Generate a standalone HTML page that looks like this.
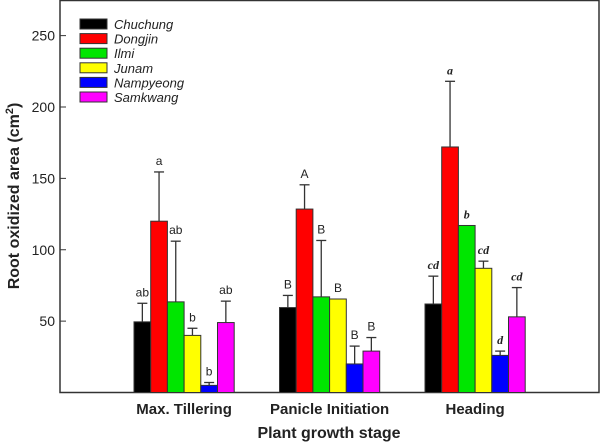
<!DOCTYPE html>
<html><head><meta charset="utf-8"><style>
body{margin:0;background:#fff}
svg{display:block;font-family:"Liberation Sans",Arial,sans-serif}
</style></head><body>
<svg id="chart" width="600" height="442" viewBox="0 0 600 442" xmlns="http://www.w3.org/2000/svg"></svg>
<script>
const categories=["Max. Tillering","Panicle Initiation","Heading"];
const series=["Chuchung","Dongjin","Ilmi","Junam","Nampyeong","Samkwang"];
const colors=["#000000","#ff0000","#00e600","#ffff00","#0000ff","#ff00ff"];
const valsChuchung=[49.5,59.5,62];
const valsDongjin=[120,128.5,172];
const valsIlmi=[63.5,67,117];
const valsJunam=[40,65.5,87];
const valsNampyeong=[5,20,26];
const valsSamkwang=[49,29,53];
const errChuchung=[13,8.5,19.5];
const errDongjin=[34.5,17,46];
const errIlmi=[42.5,39.5,0];
const errJunam=[5,0,5];
const errNampyeong=[2,12.5,3];
const errSamkwang=[15,9.5,20.5];
const lettersChuchung=["ab","B","cd"];
const lettersDongjin=["a","A","a"];
const lettersIlmi=["ab","B","b"];
const lettersJunam=["b","B","cd"];
const lettersNampyeong=["b","B","d"];
const lettersSamkwang=["ab","B","cd"];
const yTicks=[50,100,150,200,250];

const values=[valsChuchung,valsDongjin,valsIlmi,valsJunam,valsNampyeong,valsSamkwang];
const errs=[errChuchung,errDongjin,errIlmi,errJunam,errNampyeong,errSamkwang];
const letters=[lettersChuchung,lettersDongjin,lettersIlmi,lettersJunam,lettersNampyeong,lettersSamkwang];

const svg=document.getElementById('chart');
const NS="http://www.w3.org/2000/svg";
function mk(t,a,txt){const e=document.createElementNS(NS,t);for(const k in a)e.setAttribute(k,a[k]);if(txt!==undefined)e.textContent=txt;svg.appendChild(e);return e;}
const L=60,R=599,T=0.5,B=392.5;
const y=v=>B-v*1.4275;
const groupStart=i=>134+i*145.5;
const bw=16.7;
const x=(g,s)=>groupStart(g)+s*bw;

// frame
let e=mk('rect',{x:L,y:T,width:R-L,height:B-T,fill:'none',stroke:'#333','stroke-width':1.5});


yTicks.forEach(t=>{
  let tk=mk('line',{x1:L,x2:L+6,y1:y(t),y2:y(t),stroke:'#333','stroke-width':1});
  
  
  let lb=mk('text',{x:L-5,y:y(t)+5,'text-anchor':'end','font-size':14,fill:'#222'},t);
  
  
});
categories.forEach((c,g)=>{
  for(let s=0;s<series.length;s++){
    const v=values[s][g],er=errs[s][g],bx=x(g,s);
    if(er>0){
      let l1=mk('line',{x1:bx+bw/2,x2:bx+bw/2,y1:y(v),y2:y(v+er),stroke:'#333','stroke-width':1.3});
      
      
      let l2=mk('line',{x1:bx+bw/2-5,x2:bx+bw/2+5,y1:y(v+er),y2:y(v+er),stroke:'#333','stroke-width':1.3});
      
      
    }
    let r=mk('rect',{x:bx,y:y(v),width:bw,height:B-y(v),fill:colors[s],stroke:'#333','stroke-width':1});
    
    
    const it=g===2;
    let t=mk('text',{x:bx+bw/2,y:y(v+er)-7,'text-anchor':'middle','font-size':it?12:12,fill:'#222',
      'font-family':it?'"Liberation Serif",serif':'"Liberation Sans",sans-serif','font-style':it?'italic':'normal','font-weight':it?'bold':'normal'},letters[s][g]);
    
    
  }
  let cl=mk('text',{x:groupStart(g)+3*bw,y:414,'text-anchor':'middle','font-size':15,'font-weight':'bold',fill:'#222'},c);
  
  
});
let xt=mk('text',{x:329,y:438,'text-anchor':'middle','font-size':16,'font-weight':'bold',fill:'#222'},'Plant growth stage');


let yt=mk('text',{transform:'translate(19,196) rotate(-90)','text-anchor':'middle','font-size':16,'font-weight':'bold',fill:'#222'},'Root oxidized area (cm');


const sup=document.createElementNS(NS,'tspan');sup.setAttribute('dy','-6');sup.setAttribute('font-size','11');sup.textContent='2';yt.appendChild(sup);
const cp=document.createElementNS(NS,'tspan');cp.setAttribute('dy','6');cp.textContent=')';yt.appendChild(cp);
series.forEach((s,i)=>{
  const cy=24+i*14.6;
  let sw=mk('rect',{x:80,y:cy-5,width:27,height:10,fill:colors[i],stroke:'#333','stroke-width':1});
  
  
  let lt=mk('text',{x:114,y:cy+5,'font-size':13,'font-style':'italic',fill:'#222'},s);
  
  
});
</script>
</body></html>
